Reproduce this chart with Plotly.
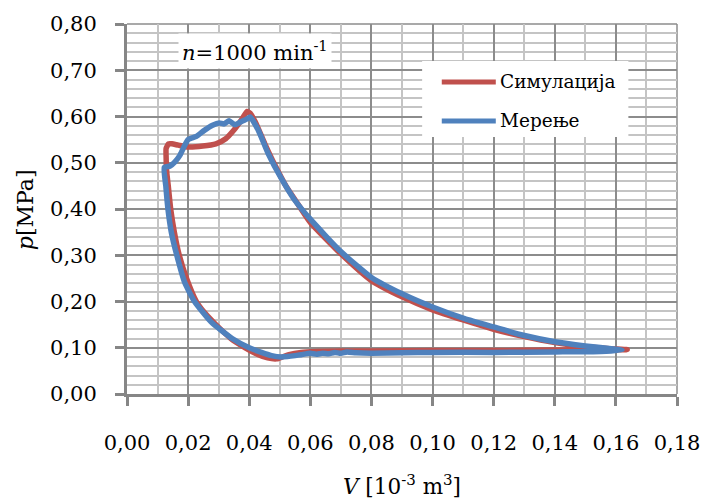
import plotly.graph_objects as go

# Indicator diagram, n = 1000 min^-1 : volume V [10^-3 m^3] vs. pressure p [MPa]
sim_v = [0.1637, 0.155, 0.140, 0.120, 0.100, 0.080, 0.070, 0.062, 0.057, 0.053,
         0.050, 0.049, 0.046, 0.043, 0.0387, 0.034, 0.0291, 0.0255, 0.0227, 0.0195,
         0.0171, 0.0155, 0.0143, 0.0135, 0.0130, 0.0128, 0.0128, 0.0136, 0.0147, 0.0168,
         0.0200, 0.0248, 0.0291, 0.0323, 0.0350, 0.0377, 0.0393, 0.0403, 0.0420, 0.0451,
         0.0484, 0.0520, 0.0560, 0.060, 0.070, 0.080, 0.090, 0.100, 0.110, 0.120,
         0.130, 0.140, 0.150, 0.158, 0.1637]
sim_p = [0.096, 0.095, 0.095, 0.094, 0.094, 0.093, 0.093, 0.092, 0.090, 0.085,
         0.078, 0.076, 0.078, 0.085, 0.100, 0.120, 0.150, 0.175, 0.200, 0.250,
         0.300, 0.350, 0.400, 0.450, 0.480, 0.513, 0.531, 0.541, 0.541, 0.538,
         0.534, 0.536, 0.541, 0.552, 0.571, 0.595, 0.611, 0.607, 0.588, 0.541,
         0.495, 0.450, 0.410, 0.371, 0.303, 0.245, 0.210, 0.182, 0.160, 0.140,
         0.124, 0.111, 0.102, 0.098, 0.096]

meas_v = [0.1620, 0.155, 0.140, 0.120, 0.100, 0.090, 0.080, 0.075, 0.072, 0.070,
          0.068, 0.066, 0.064, 0.062, 0.060, 0.057, 0.055, 0.0525, 0.0505, 0.0473,
          0.044, 0.040, 0.0344, 0.0275, 0.0221, 0.0189, 0.0163, 0.0145, 0.0134, 0.0127,
          0.0122, 0.0141, 0.0157, 0.0173, 0.0184, 0.0200, 0.0227, 0.0253, 0.0280, 0.0302,
          0.0318, 0.0334, 0.0353, 0.0371, 0.0393, 0.0403, 0.0430, 0.0462, 0.0505, 0.0548,
          0.060, 0.0698, 0.080, 0.0902, 0.100, 0.1105, 0.120, 0.1297, 0.140, 0.150,
          0.160, 0.1620]
meas_p = [0.095, 0.092, 0.091, 0.090, 0.090, 0.089, 0.088, 0.089, 0.091, 0.088,
          0.090, 0.087, 0.088, 0.086, 0.088, 0.085, 0.083, 0.081, 0.080, 0.083,
          0.090, 0.100, 0.120, 0.156, 0.200, 0.241, 0.300, 0.350, 0.400, 0.450,
          0.490, 0.493, 0.502, 0.516, 0.531, 0.550, 0.557, 0.570, 0.581, 0.586,
          0.584, 0.591, 0.582, 0.588, 0.595, 0.599, 0.570, 0.520, 0.466, 0.420,
          0.378, 0.309, 0.252, 0.216, 0.188, 0.163, 0.145, 0.127, 0.113, 0.104,
          0.097, 0.095]

series_names = ["Симулација", "Мерење"]
series_colors = ["#C0504D", "#4F81BD"]

FONT = "DejaVu Serif"
AXIS_GRAY = "#868686"
GRID_MAJOR = "#8c8c8c"
GRID_MINOR = "#c4c4c4"

fig = go.Figure()
fig.add_trace(go.Scatter(x=sim_v, y=sim_p, mode="lines", name=series_names[0],
                         line=dict(color=series_colors[0], width=5.5, shape="spline", smoothing=0.5)))
fig.add_trace(go.Scatter(x=meas_v, y=meas_p, mode="lines", name=series_names[1],
                         line=dict(color=series_colors[1], width=5.5, shape="spline", smoothing=0.5)))

W, H = 712, 503
L, R, T, B = 126.5, 25.5, 24, 108.7
pw, ph = W - L - R, H - T - B


def px(xpix):
    return (xpix - L) / pw


def py(ypix):
    return (H - B - ypix) / ph


shapes = [
    # grid lines on the far edges of the plot area
    dict(type="line", xref="paper", yref="paper", x0=0, x1=1, y0=1, y1=1,
         line=dict(color=GRID_MAJOR, width=1.5), layer="below"),
    dict(type="line", xref="paper", yref="paper", x0=1, x1=1, y0=0, y1=1,
         line=dict(color=GRID_MAJOR, width=1.5), layer="below"),
    # legend box
    dict(type="rect", xref="paper", yref="paper", x0=px(427), x1=px(637), y0=py(137), y1=py(61),
         fillcolor="white", line=dict(width=0), layer="above"),
]
annotations = []
for i, (name, col) in enumerate(zip(series_names, series_colors)):
    yy = py(82 + 39 * i)
    shapes.append(dict(type="line", xref="paper", yref="paper", x0=px(447), x1=px(502), y0=yy, y1=yy,
                       line=dict(color=col, width=5), layer="above"))
    annotations.append(dict(xref="paper", yref="paper", x=px(504), y=yy, text=name, showarrow=False,
                            xanchor="left", yanchor="middle", font=dict(family=FONT, size=18.5, color="black")))

annotations += [
    dict(xref="paper", yref="paper", x=px(257), y=py(51), text="<i>n</i>=1000 min<sup>-1</sup>",
         showarrow=False, xanchor="center", yanchor="middle", bgcolor="white", borderpad=3,
         font=dict(family=FONT, size=21, color="black")),
    dict(xref="paper", yref="paper", x=px(24), y=py(210), text="<i>p</i>[MPa]", textangle=-90,
         showarrow=False, xanchor="center", yanchor="middle", font=dict(family=FONT, size=22, color="black")),
    dict(xref="paper", yref="paper", x=px(406.5), y=py(485), text="<i>V</i> [10<sup>-3</sup> m<sup>3</sup>]",
         showarrow=False, xanchor="center", yanchor="middle", font=dict(family=FONT, size=21.5, color="black")),
]

axis_common = dict(
    showline=True, linecolor=AXIS_GRAY, linewidth=3,
    ticks="outside", ticklen=9, tickwidth=3, tickcolor=AXIS_GRAY,
    showgrid=True, gridcolor=GRID_MAJOR, gridwidth=1.5,
    zeroline=False, tickformat=".2f",
    tickfont=dict(family=FONT, size=21, color="black"),
)

fig.update_layout(
    width=W, height=H,
    margin=dict(l=L, r=R, t=T, b=B),
    paper_bgcolor="white", plot_bgcolor="white",
    separators=", ",
    showlegend=False,
    shapes=shapes, annotations=annotations,
    xaxis=dict(range=[0, 0.18], dtick=0.02, tick0=0, ticklabelstandoff=19,
               minor=dict(dtick=0.01, showgrid=True, gridcolor=GRID_MINOR, gridwidth=1.5, ticks=""),
               **axis_common),
    yaxis=dict(range=[0, 0.8], dtick=0.1, tick0=0, ticklabelstandoff=14,
               minor=dict(dtick=0.02, showgrid=True, gridcolor=GRID_MINOR, gridwidth=1.5, ticks=""),
               **axis_common),
)

fig.write_html("out.html")
